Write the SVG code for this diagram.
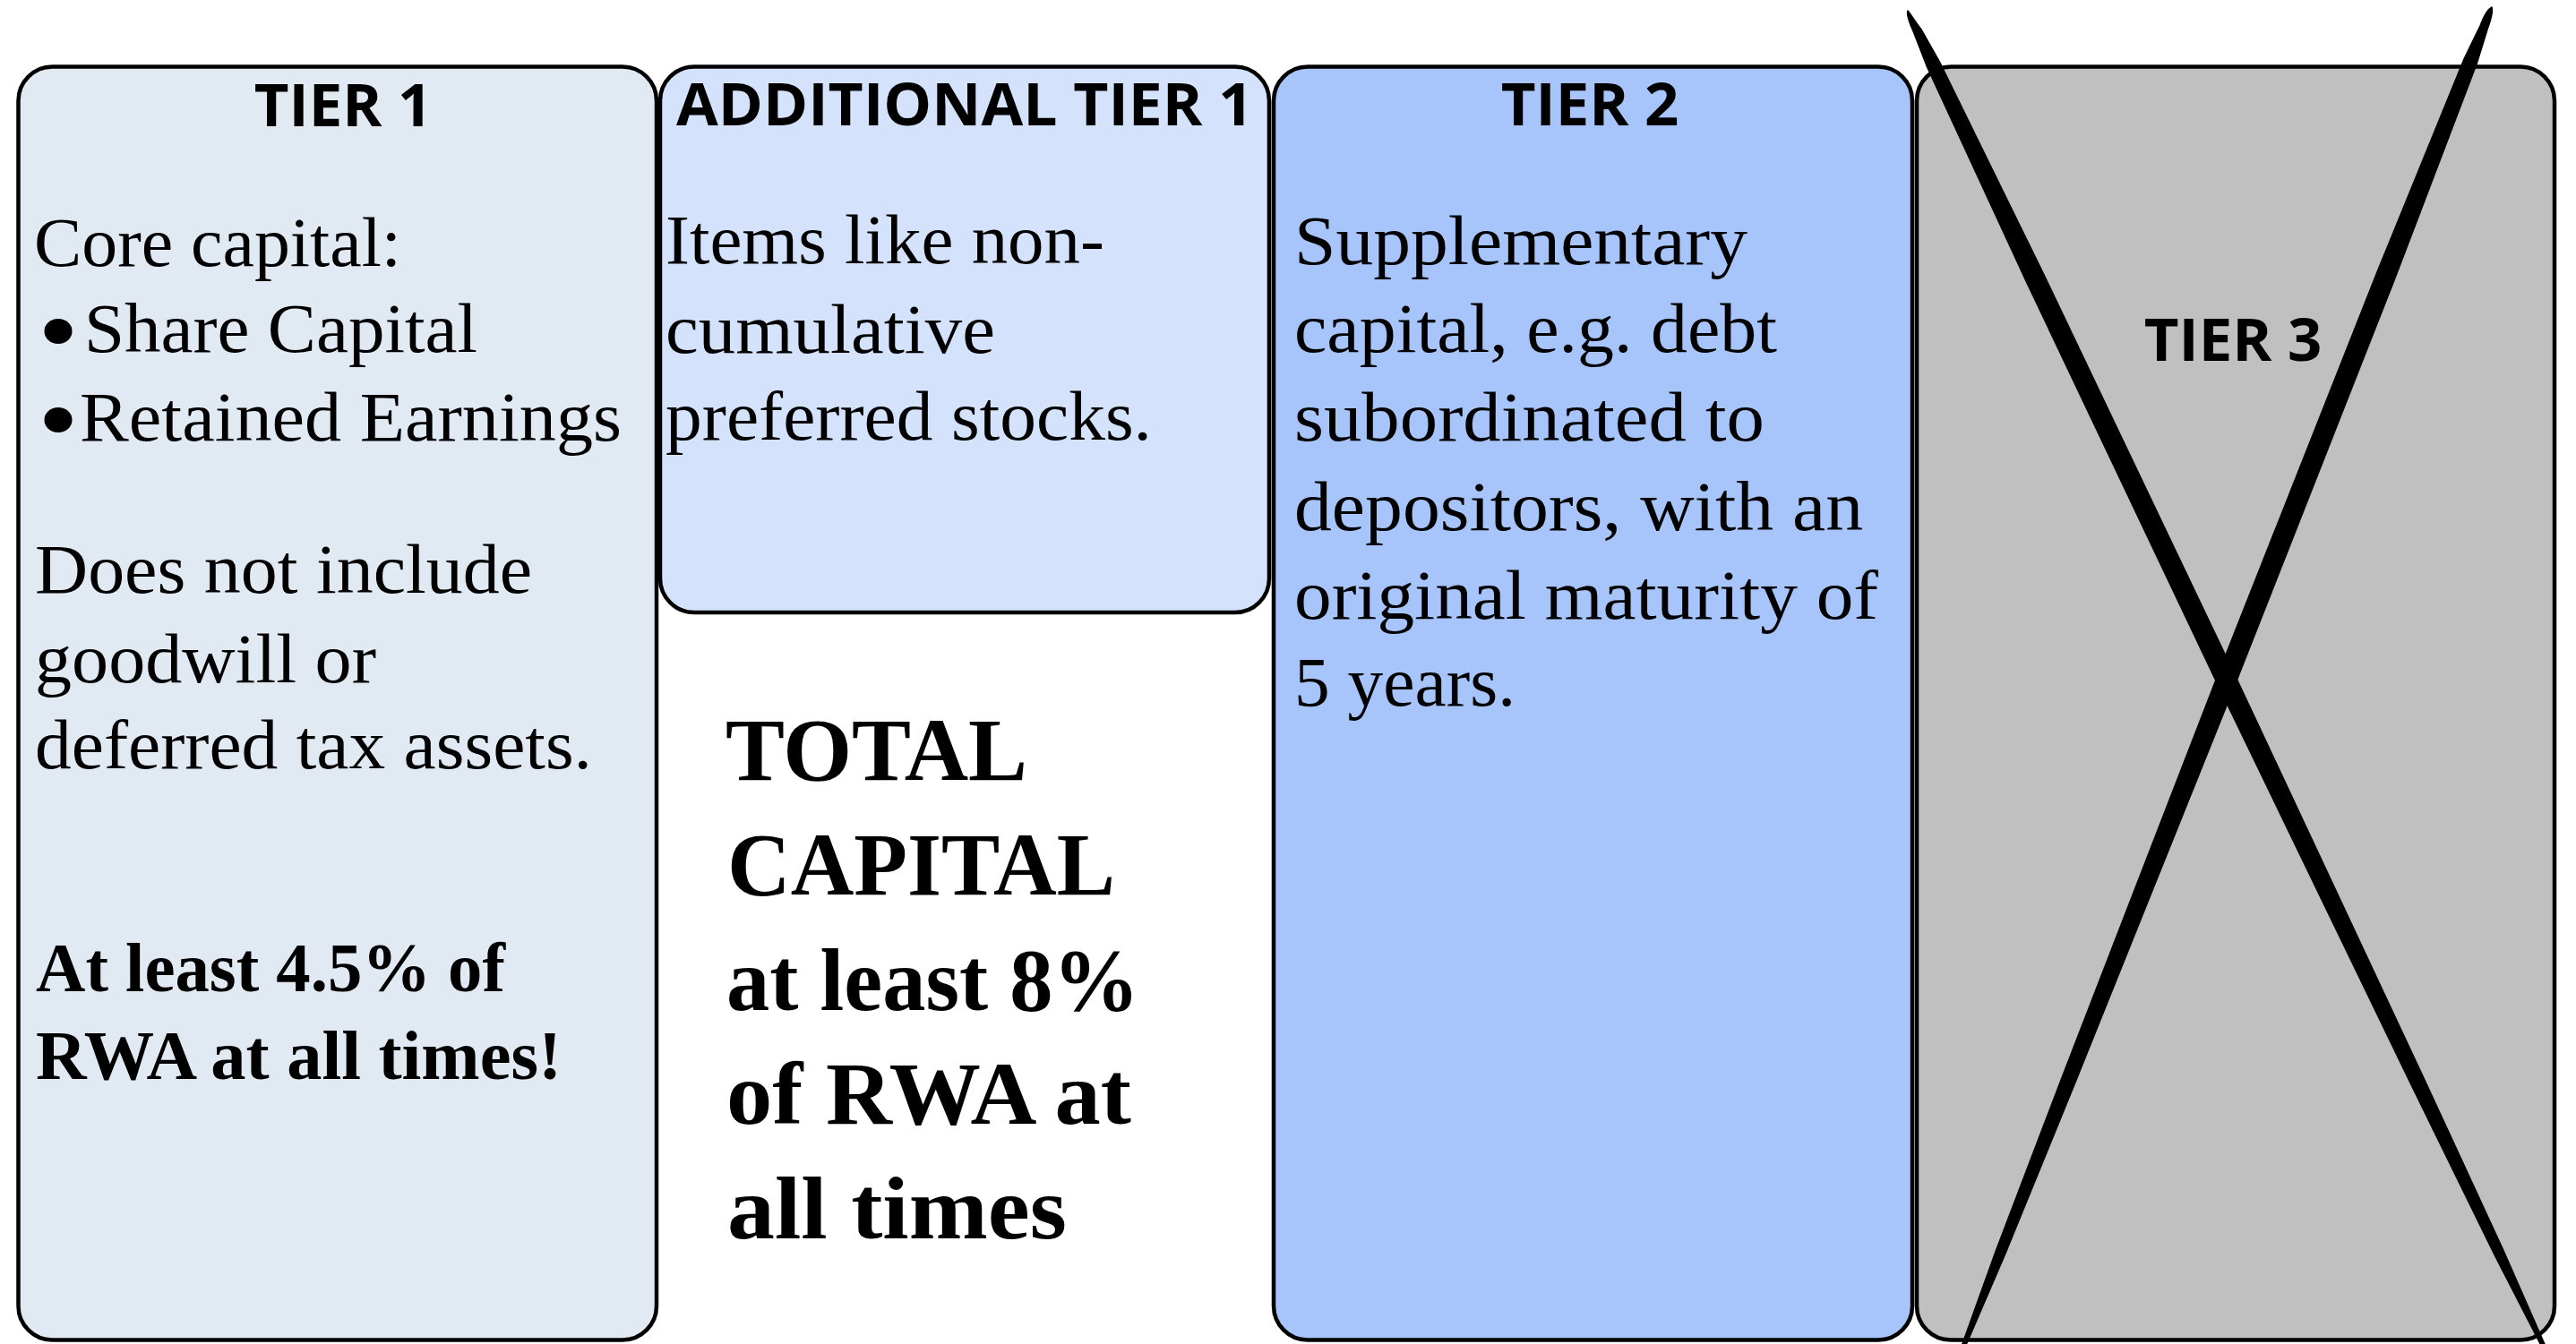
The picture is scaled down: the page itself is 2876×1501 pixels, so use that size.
<svg xmlns="http://www.w3.org/2000/svg" width="2876" height="1501" viewBox="0 0 2876 1501">
<style>
.box{stroke:#000;stroke-width:4.5}
.hd{font-family:"Open Sans","Noto Sans","DejaVu Sans",sans-serif;font-weight:700;font-size:67px;fill:#000;text-anchor:middle}
.bd{font-family:"Liberation Serif","Times New Roman",serif;font-size:78px;fill:#000}
.bb{font-family:"Liberation Serif","Times New Roman",serif;font-size:78px;font-weight:700;fill:#000}
.big{font-family:"Liberation Serif","Times New Roman",serif;font-size:99px;font-weight:700;fill:#000}
.x{fill:#000;stroke:#000;stroke-width:1.5;stroke-linejoin:round}
</style>
<rect width="2876" height="1501" fill="#fff"/>
<g id="tier1">
<rect class="box" x="20.5" y="74.5" width="712.5" height="1422" rx="38" ry="38" fill="#E1E9F3"/>
<text class="hd" x="383" y="141">TIER 1</text>
<text class="bd" x="38" y="297" textLength="410" lengthAdjust="spacingAndGlyphs">Core capital:</text>
<ellipse cx="65" cy="370" rx="15.5" ry="14" fill="#000"/>
<text class="bd" x="94" y="393" textLength="439" lengthAdjust="spacingAndGlyphs">Share Capital</text>
<ellipse cx="65" cy="469" rx="15.5" ry="14" fill="#000"/>
<text class="bd" x="89" y="492" textLength="605" lengthAdjust="spacingAndGlyphs">Retained Earnings</text>
<text class="bd" x="39" y="662" textLength="555" lengthAdjust="spacingAndGlyphs">Does not include</text>
<text class="bd" x="39" y="762" textLength="381" lengthAdjust="spacingAndGlyphs">goodwill or</text>
<text class="bd" x="39" y="858" textLength="622" lengthAdjust="spacingAndGlyphs">deferred tax assets.</text>
<text class="bb" x="40" y="1107" textLength="524" lengthAdjust="spacingAndGlyphs">At least 4.5% of</text>
<text class="bb" x="40" y="1205" textLength="587" lengthAdjust="spacingAndGlyphs">RWA at all times!</text>
</g>
<g id="additional-tier1">
<rect class="box" x="737" y="74.5" width="680" height="609.5" rx="38" ry="38" fill="#D4E2FB"/>
<text class="hd" x="1077" y="140" textLength="644" lengthAdjust="spacingAndGlyphs">ADDITIONAL TIER 1</text>
<text class="bd" x="743" y="294" textLength="490" lengthAdjust="spacingAndGlyphs">Items like non-</text>
<text class="bd" x="743" y="394" textLength="368" lengthAdjust="spacingAndGlyphs">cumulative</text>
<text class="bd" x="743" y="491" textLength="543" lengthAdjust="spacingAndGlyphs">preferred stocks.</text>
</g>
<g id="total-capital">
<text class="big" x="810" y="871" textLength="337" lengthAdjust="spacingAndGlyphs">TOTAL</text>
<text class="big" x="812" y="999" textLength="433" lengthAdjust="spacingAndGlyphs">CAPITAL</text>
<text class="big" x="811" y="1128" textLength="461" lengthAdjust="spacingAndGlyphs">at least 8%</text>
<text class="big" x="811" y="1255" textLength="452" lengthAdjust="spacingAndGlyphs">of RWA at</text>
<text class="big" x="812" y="1383" textLength="379" lengthAdjust="spacingAndGlyphs">all times</text>
</g>
<g id="tier2">
<rect class="box" x="1422" y="74.5" width="713" height="1422" rx="38" ry="38" fill="#A8C5FB"/>
<text class="hd" x="1775" y="140">TIER 2</text>
<text class="bd" x="1445" y="295" textLength="506" lengthAdjust="spacingAndGlyphs">Supplementary</text>
<text class="bd" x="1445" y="393" textLength="539" lengthAdjust="spacingAndGlyphs">capital, e.g. debt</text>
<text class="bd" x="1445" y="492" textLength="525" lengthAdjust="spacingAndGlyphs">subordinated to</text>
<text class="bd" x="1445" y="592" textLength="635" lengthAdjust="spacingAndGlyphs">depositors, with an</text>
<text class="bd" x="1445" y="691" textLength="652" lengthAdjust="spacingAndGlyphs">original maturity of</text>
<text class="bd" x="1445" y="788" textLength="247" lengthAdjust="spacingAndGlyphs">5 years.</text>
</g>
<g id="tier3">
<rect class="box" x="2140" y="74.5" width="712" height="1422" rx="38" ry="38" fill="#C0C0C0"/>
<text class="hd" x="2493" y="403">TIER 3</text>
<g id="tier3-cross">
<path class="x" d="M2130,12 C2136,20 2141,28 2144.7,32.4 L2165.2,68.5 L2281.5,305.9 L2494.9,753.3 L2705.2,1202.2 L2795.3,1397.2 L2841.8,1503.1 L2838.2,1504.9 L2785.3,1402 L2690.8,1209 L2475.1,762.7 L2262.5,314.9 L2151.6,74.9 L2136.6,36.3 C2132,26 2128,16 2130,12 Z"/>
<path class="x" d="M2782,8 C2784,14 2780,24 2777.3,32.1 L2765.4,70.6 L2673.8,311.1 L2497.2,760 L2317.4,1207.7 L2238.4,1401.3 L2193.9,1504.7 L2190.1,1503.3 L2228.2,1397.3 L2302.6,1201.9 L2476.8,752 L2654.2,303.4 L2751.4,65.1 L2769,28.8 C2773,18 2778,10 2782,8 Z"/>
</g>
</g>
</svg>
